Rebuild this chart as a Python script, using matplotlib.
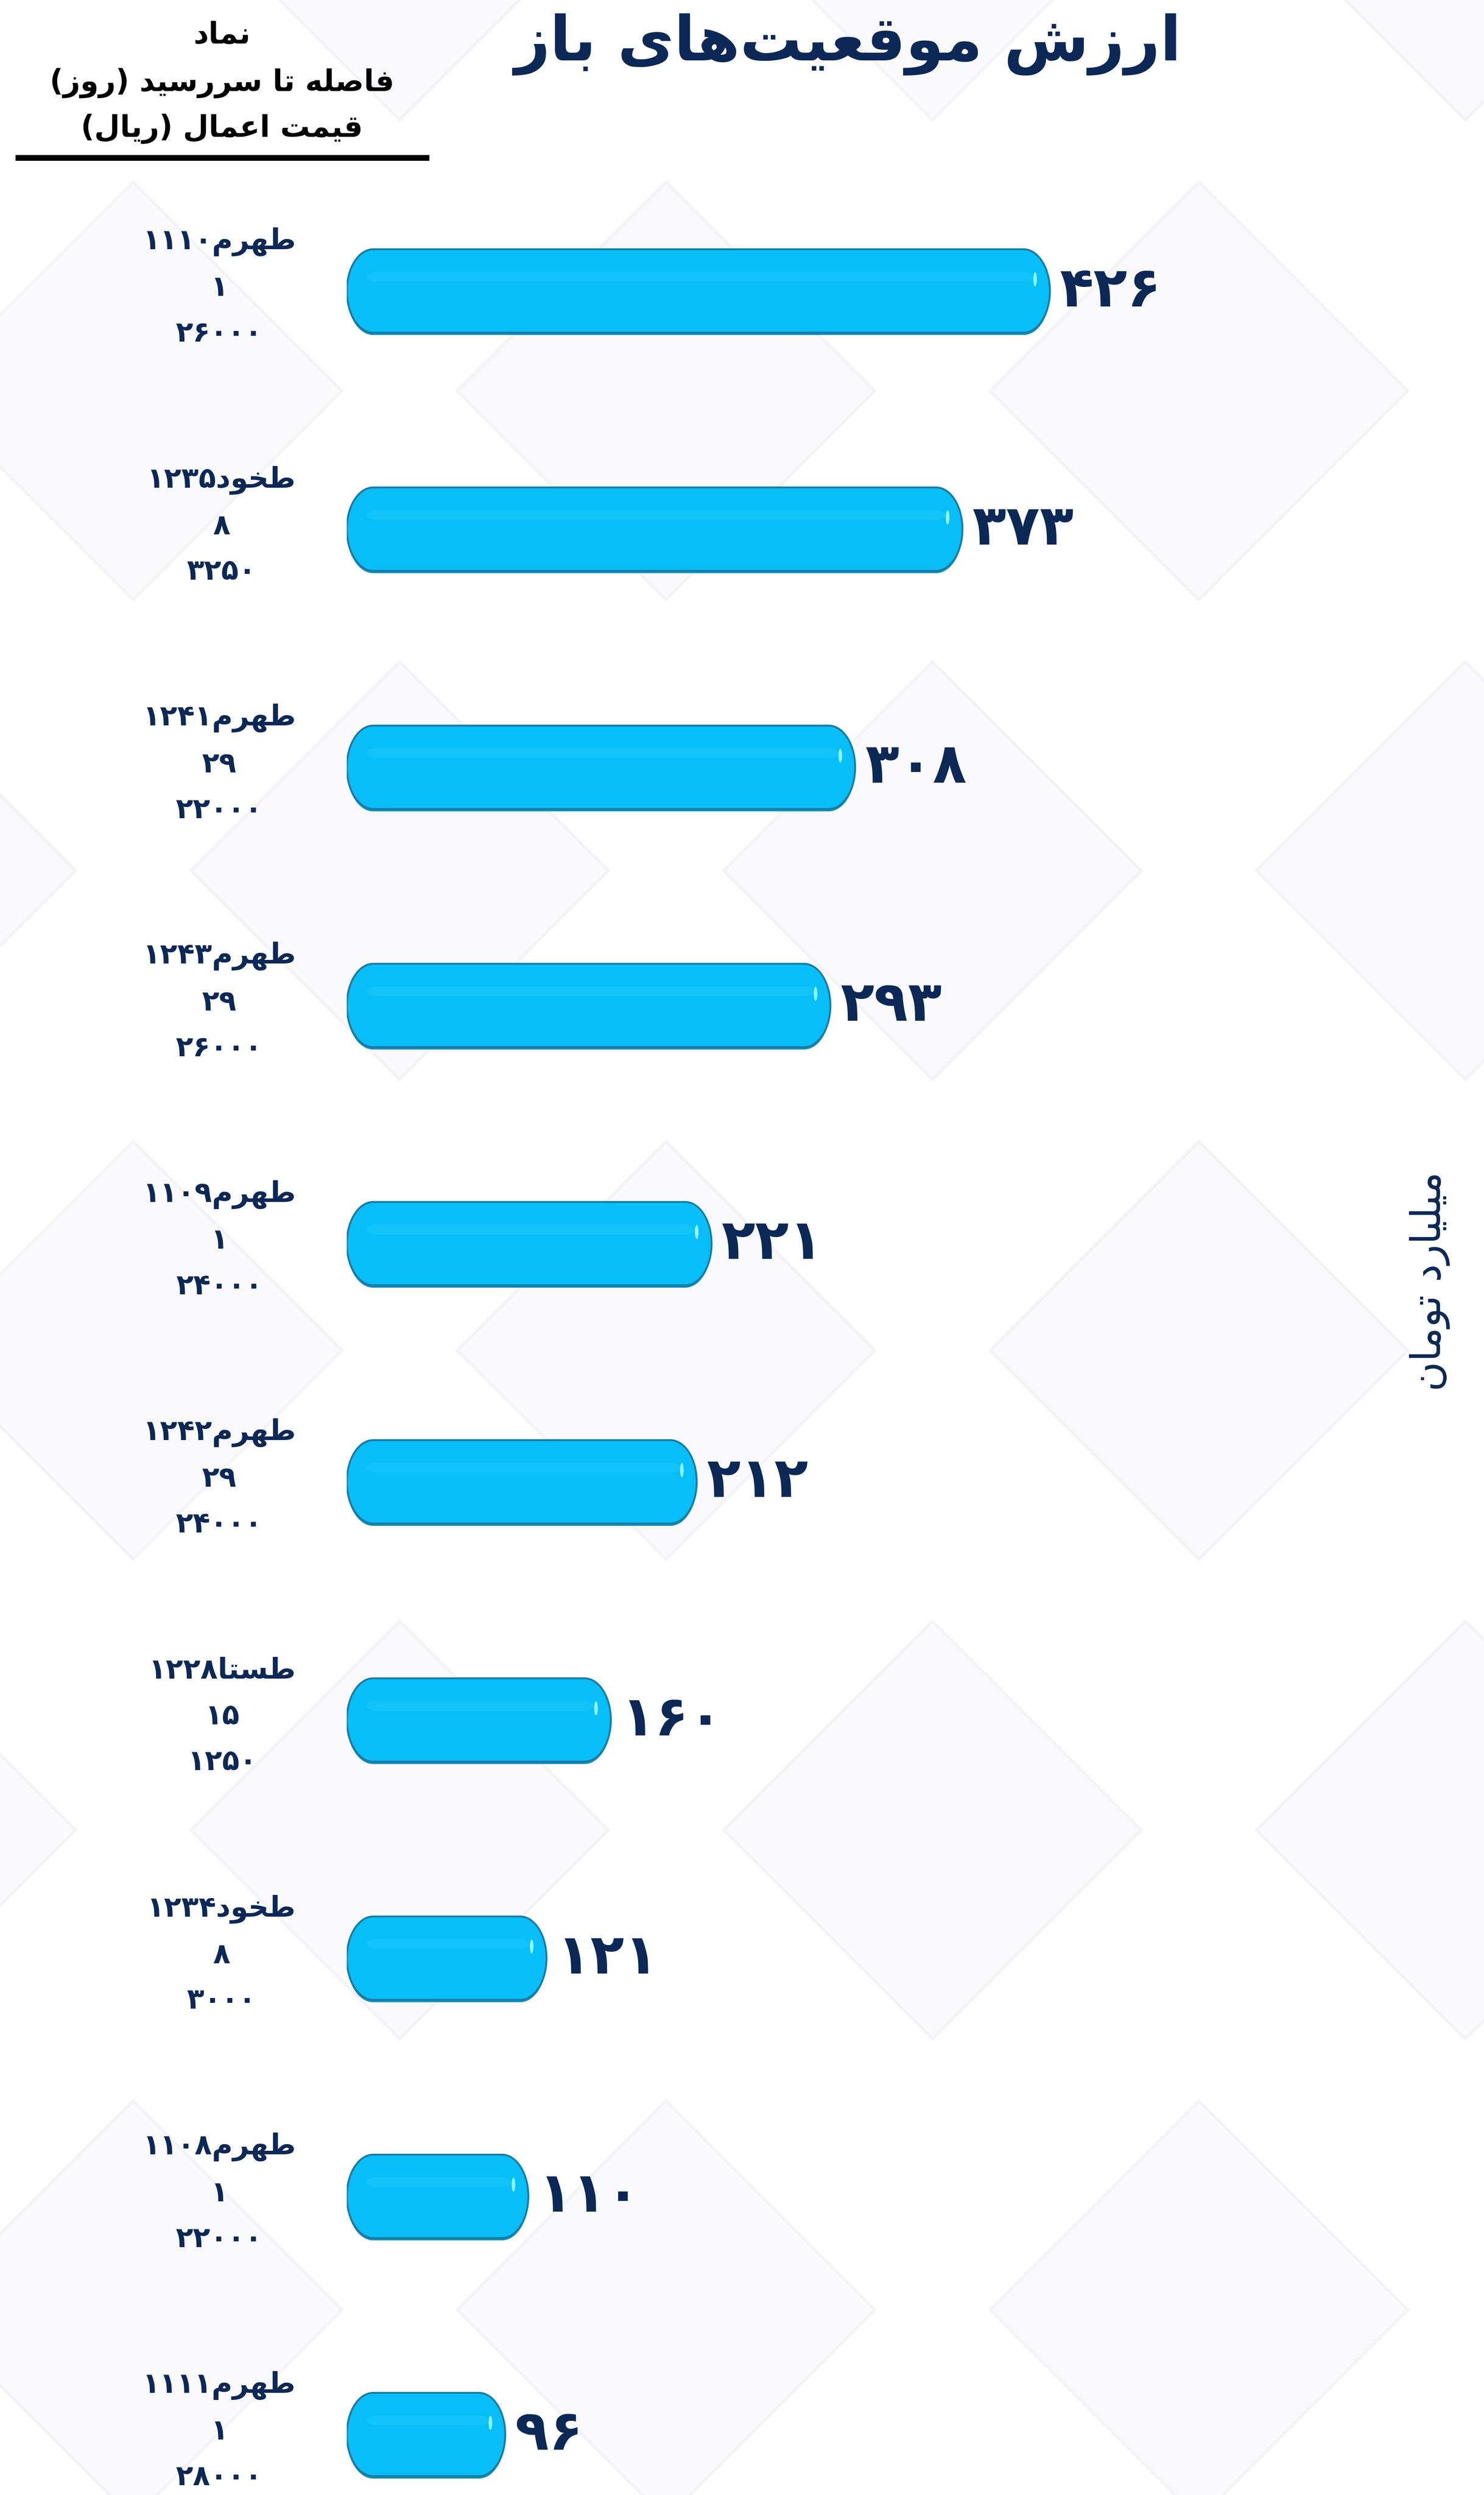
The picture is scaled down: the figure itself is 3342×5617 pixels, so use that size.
import re
import matplotlib
matplotlib.use('Agg')
import matplotlib.pyplot as plt
from matplotlib.patches import PathPatch, Ellipse, Polygon
from matplotlib.path import Path
from matplotlib.lines import Line2D

plt.rcParams['font.family'] = ['DejaVu Sans']

# داده‌ها
symbols = ['طهرم1110', 'طخود1235', 'طهرم1241', 'طهرم1243', 'طهرم1109',
           'طهرم1242', 'طستا1228', 'طخود1234', 'طهرم1108', 'طهرم1111']
days = [1, 8, 29, 29, 1, 29, 15, 8, 1, 1]
strikes = [26000, 3250, 22000, 26000, 24000, 24000, 1250, 3000, 22000, 28000]
values = [426, 373, 308, 293, 221, 212, 160, 121, 110, 96]

title = 'ارزش موقعیت\u200cهای باز'
header = ['نماد', 'فاصله تا سررسید (روز)', 'قیمت اعمال (ریال)']
unit = 'میلیارد تومان'

NAVY = '#0b2856'
CYAN = '#07bef8'

# شکل‌دهی حروف فارسی (matplotlib خودش حروف را نمی‌چسباند)
FORMS = {
    'ا': ('\uFE8D', '\uFE8E', None, None),
    'ب': ('\uFE8F', '\uFE90', '\uFE91', '\uFE92'),
    'ت': ('\uFE95', '\uFE96', '\uFE97', '\uFE98'),
    'خ': ('\uFEA5', '\uFEA6', '\uFEA7', '\uFEA8'),
    'د': ('\uFEA9', '\uFEAA', None, None),
    'ر': ('\uFEAD', '\uFEAE', None, None),
    'ز': ('\uFEAF', '\uFEB0', None, None),
    'س': ('\uFEB1', '\uFEB2', '\uFEB3', '\uFEB4'),
    'ش': ('\uFEB5', '\uFEB6', '\uFEB7', '\uFEB8'),
    'ص': ('\uFEB9', '\uFEBA', '\uFEBB', '\uFEBC'),
    'ط': ('\uFEC1', '\uFEC2', '\uFEC3', '\uFEC4'),
    'ع': ('\uFEC9', '\uFECA', '\uFECB', '\uFECC'),
    'ف': ('\uFED1', '\uFED2', '\uFED3', '\uFED4'),
    'ق': ('\uFED5', '\uFED6', '\uFED7', '\uFED8'),
    'ل': ('\uFEDD', '\uFEDE', '\uFEDF', '\uFEE0'),
    'م': ('\uFEE1', '\uFEE2', '\uFEE3', '\uFEE4'),
    'ن': ('\uFEE5', '\uFEE6', '\uFEE7', '\uFEE8'),
    'ه': ('\uFEE9', '\uFEEA', '\uFEEB', '\uFEEC'),
    'و': ('\uFEED', '\uFEEE', None, None),
    '\u06CC': ('\uFBFC', '\uFBFD', '\uFBFE', '\uFBFF'),
}
FA_DIGITS = str.maketrans('0123456789', '۰۱۲۳۴۵۶۷۸۹')
MIRROR = str.maketrans('()', ')(')


def shape(s):
    s = s.replace('\u064A', '\u06CC').replace('ي', '\u06CC')
    out = []
    for i, c in enumerate(s):
        if c not in FORMS:
            out.append(c)
            continue
        prev = s[i - 1] if i > 0 else None
        nxt = s[i + 1] if i + 1 < len(s) else None
        jp = prev in FORMS and FORMS[prev][2] is not None
        jn = FORMS[c][2] is not None and nxt in FORMS
        f = FORMS[c]
        if jp and jn:
            out.append(f[3])
        elif jp:
            out.append(f[1])
        elif jn:
            out.append(f[2])
        else:
            out.append(f[0])
    return ''.join(out)


def fa(s):
    s = shape(str(s).translate(FA_DIGITS)).replace('\u200c', '')
    runs = re.findall(r'[\u06F0-\u06F9]+|[^\u06F0-\u06F9]+', s)
    vis = []
    for r in reversed(runs):
        if re.match(r'[\u06F0-\u06F9]', r):
            vis.append(r)
        else:
            vis.append(r[::-1].translate(MIRROR))
    return ''.join(vis)


def pill(x0, x1, yc, h, rx):
    # میله با دو سر بیضی
    ry = h / 2
    k = 0.5523
    a, b = x0 + rx, x1 - rx
    verts = [(a, yc - ry), (b, yc - ry),
             (b + k * rx, yc - ry), (x1, yc - k * ry), (x1, yc),
             (x1, yc + k * ry), (b + k * rx, yc + ry), (b, yc + ry),
             (a, yc + ry),
             (a - k * rx, yc + ry), (x0, yc + k * ry), (x0, yc),
             (x0, yc - k * ry), (a - k * rx, yc - ry), (a, yc - ry),
             (a, yc - ry)]
    codes = ([Path.MOVETO, Path.LINETO] + [Path.CURVE4] * 6 + [Path.LINETO]
             + [Path.CURVE4] * 6 + [Path.CLOSEPOLY])
    return Path(verts, codes)


W, H = 3342, 5617
fig = plt.figure(figsize=(W / 100, H / 100), dpi=100)
fig.patch.set_facecolor('white')

# پس‌زمینه لوزی‌های کم‌رنگ
bg = fig.add_axes([0, 0, 1, 1], zorder=0)
bg.set_xlim(0, W)
bg.set_ylim(H, 0)
bg.axis('off')
for row, cy in enumerate(range(-200, H + 800, 1080)):
    for cx in range(-300 + (row % 2) * 600, W + 800, 1200):
        d = 470
        bg.add_patch(Polygon([(cx, cy - d), (cx + d, cy), (cx, cy + d), (cx - d, cy)],
                             closed=True, facecolor='#fafafc', edgecolor='#f4f4f8',
                             lw=5, zorder=0))

# محور اصلی
x0 = 781
px_per_unit = 3.717
ax = fig.add_axes([x0 / W, 0, (W - x0) / W, 1], zorder=2)
ax.patch.set_alpha(0)
ax.set_xlim(0, (W - x0) / px_per_unit)
first, step = 655, 536.2
ax.set_ylim((H - first) / step, -first / step)
ax.axis('off')

h = 0.35
rx = 16
for i, v in enumerate(values):
    ax.add_patch(PathPatch(pill(0, v, i + 0.01, h, rx), facecolor='#0d8fbf',
                           edgecolor='none', zorder=3))
    ax.add_patch(PathPatch(pill(0, v, i, h, rx), facecolor=CYAN,
                           edgecolor='#1a7aa2', lw=3, zorder=3))
    # برق بالای میله
    ax.add_patch(PathPatch(pill(12, v - 10, i - h * 0.17, h * 0.12, 6),
                           facecolor='#12c4fa', edgecolor='none', zorder=4))
    ax.add_patch(Ellipse((v - 9, i - h * 0.14), 2.2, h * 0.17,
                         facecolor='#8ff4ff', edgecolor='none', zorder=5))
    ax.text(v + 6, i, fa(v), ha='left', va='center', fontsize=90,
            fontweight='bold', color=NAVY, zorder=6)
    label = '\n'.join([fa(symbols[i]), fa(days[i]), fa(strikes[i])])
    ax.text(-31, i - 0.015, label, ha='right', va='center', multialignment='center',
            fontsize=46, fontweight='bold', color=NAVY, linespacing=1.83, zorder=6)

# عنوان
fig.text(1910 / W, 1 - 100 / H, fa(title), ha='center', va='center',
         fontsize=100, fontweight='bold', color=NAVY, zorder=6)

# سرستون
for t, yy in zip(header, [78, 187, 290]):
    fig.text(500 / W, 1 - yy / H, fa(t), ha='center', va='center',
             fontsize=48, fontweight='bold', color='black', zorder=6)
fig.add_artist(Line2D([41 / W, 960 / W], [1 - 355 / H, 1 - 355 / H],
                      color='black', lw=9.4, zorder=6))

# واحد
fig.text(3220 / W, 1 - 2885 / H, fa(unit), ha='center', va='center', rotation=90,
         fontsize=66, color=NAVY, zorder=6)

fig.savefig('out.png', dpi=100)
